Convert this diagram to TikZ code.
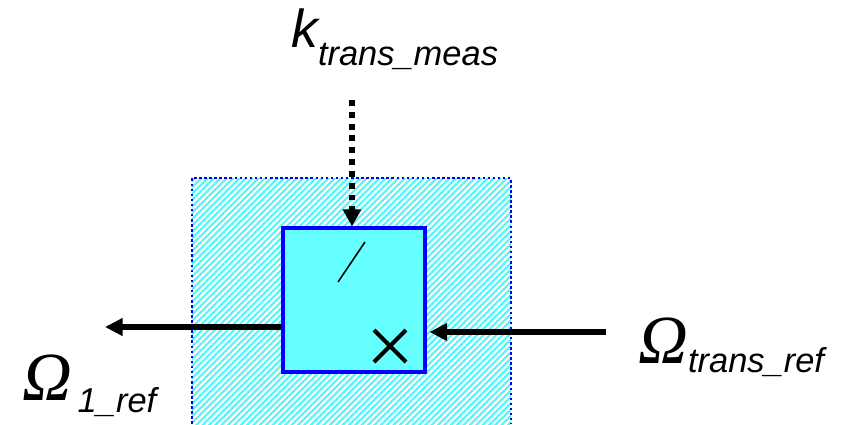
\documentclass[tikz,border=0pt]{standalone}
\usepackage{fontspec}
\setmainfont{Liberation Sans}
\newfontfamily\omegafont{Liberation Serif}
\usetikzlibrary{arrows.meta,patterns.meta,positioning}
\definecolor{blkcyan}{HTML}{66FFFF}
\definecolor{hatchcyan}{HTML}{55F5FA}
\definecolor{edgeblue}{HTML}{0000FF}
\newcommand{\biglab}[3]{{#1}\raisebox{-#3}{\fontsize{24.5}{24.5}\selectfont\itshape #2}}
\newcommand{\kfont}{\fontsize{38}{38}\selectfont\itshape}
\newcommand{\ofont}{\fontsize{49}{49}\selectfont\omegafont\itshape}

\begin{document}
\begin{tikzpicture}[x=0.025cm,y=-0.025cm,
  zonefill/.style={fill=white, postaction={pattern={Lines[angle=45,distance=3.2pt,line width=1.5pt]}, pattern color=hatchcyan}},
  zoneedge/.style={draw=edgeblue, line width=1.8pt, dash pattern=on 1.8pt off 1.8pt},
  blkbox/.style={draw=edgeblue, fill=blkcyan, line width=2.4pt, minimum width=3.55cm, minimum height=3.6cm, inner sep=0pt},
  flow/.style={line width=3.6pt, -{Triangle[length=12.5pt,width=12pt]}},
  dotflow/.style={line width=4pt, dash pattern=on 4.2pt off 4.2pt, -{Triangle[length=12pt,width=12.5pt,sep=0pt]}},
  lab/.style={anchor=base west, inner sep=0pt},
]
\useasboundingbox (0,0) rectangle (856,424);
% hatched zone, open at the bottom
\path[zonefill] (192,178) rectangle (511,424);
\draw[zoneedge] (192,424) -- (192,178) -- (511,178) -- (511,424);

\node[blkbox] (blk) at (354,300) {};
% divide and multiply marks
\draw[line width=1.1pt] (338,282) -- (365,242);
\draw[line width=3pt] (374,330) -- (406,362) (374,362) -- (406,330);

% connectors
\coordinate (inT) at (352,100);
\coordinate (outL) at (105,327);
\coordinate (inR) at (606,332);
\draw[dotflow] (inT) -- (inT |- blk.north);
\draw[flow] (blk.west |- outL) -- (outL);
\draw[flow] (inR) -- ([xshift=2pt]inR -| blk.east);

% labels
\node[lab] (klab) at (291,47) {\biglab{\kfont k}{trans\_meas}{13pt}};
\node[lab] (olab) at (22,400) {\biglab{\ofont Ω}{\hspace{4pt}1\_ref}{9pt}};
\node[lab] (trlab) at (638,363) {\biglab{\ofont Ω}{trans\_ref}{7pt}};
\end{tikzpicture}
\end{document}
